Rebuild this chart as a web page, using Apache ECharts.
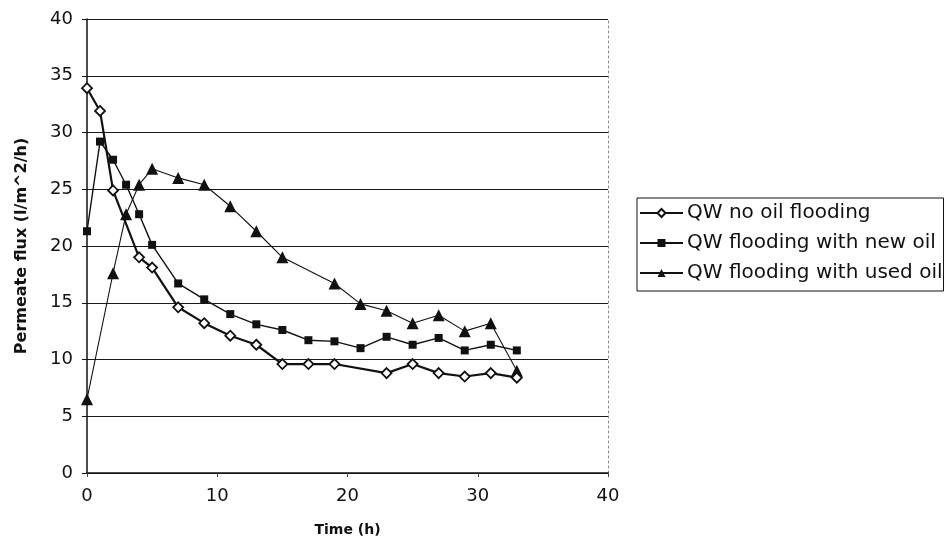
<!DOCTYPE html>
<html>
<head>
<meta charset="utf-8">
<script src="https://cdn.jsdelivr.net/npm/echarts@6/dist/echarts.min.js"></script>
<style>
  html, body { margin: 0; padding: 0; background: #fff; }
  #chart { width: 946px; height: 550px; }
</style>
</head>
<body>
<div id="chart"></div>
<script>
// series (time in h, flux in l/m^2/h)
const seriesNames = ['QW no oil flooding', 'QW flooding with new oil', 'QW flooding with used oil'];

const noOilTime = [0, 1, 2, 4, 5, 7, 9, 11, 13, 15, 17, 19, 23, 25, 27, 29, 31, 33];
const noOilFlux = [33.9, 31.9, 24.9, 19.0, 18.1, 14.6, 13.2, 12.1, 11.3, 9.6, 9.6, 9.6, 8.8, 9.6, 8.8, 8.5, 8.8, 8.4];

const newOilTime = [0, 1, 2, 3, 4, 5, 7, 9, 11, 13, 15, 17, 19, 21, 23, 25, 27, 29, 31, 33];
const newOilFlux = [21.3, 29.2, 27.6, 25.4, 22.8, 20.1, 16.7, 15.3, 14.0, 13.1, 12.6, 11.7, 11.6, 11.0, 12.0, 11.3, 11.9, 10.8, 11.3, 10.8];

const usedOilTime = [0, 2, 3, 4, 5, 7, 9, 11, 13, 15, 19, 21, 23, 25, 27, 29, 31, 33];
const usedOilFlux = [6.5, 17.6, 22.8, 25.4, 26.8, 26.0, 25.4, 23.5, 21.3, 19.0, 16.7, 14.9, 14.3, 13.2, 13.9, 12.5, 13.2, 9.0];

const xTicks = [0, 10, 20, 30, 40];
const yTicks = [0, 5, 10, 15, 20, 25, 30, 35, 40];

const pairs = (xs, ys) => xs.map((x, i) => [x, ys[i]]);

const font = 'DejaVu Sans, Arial, sans-serif';

const chart = echarts.init(document.getElementById('chart'), null, { renderer: 'canvas' });

const option = {
  animation: false,
  backgroundColor: '#fff',
  textStyle: { fontFamily: font, color: '#111' },
  grid: { left: 87, right: 338, top: 19, bottom: 77, containLabel: false },
  legend: {
    orient: 'vertical',
    left: 637,
    top: 198,
    data: seriesNames,
    itemWidth: 43,
    itemHeight: 10,
    itemGap: 10,
    padding: [5, 1, 8, 2],
    borderColor: '#111',
    borderWidth: 1,
    borderRadius: 0,
    textStyle: { fontFamily: font, fontSize: 20, color: '#111', padding: [0, 0, 0, -1] }
  },
  xAxis: {
    type: 'value',
    min: xTicks[0],
    max: xTicks[xTicks.length - 1],
    interval: 10,
    name: 'Time (h)',
    nameLocation: 'middle',
    nameGap: 50,
    nameTextStyle: { fontFamily: font, fontSize: 14, fontWeight: 'bold', color: '#111' },
    axisLine: { lineStyle: { color: '#111', width: 1.5 } },
    axisTick: { show: true, length: 4, lineStyle: { color: '#444' } },
    axisLabel: { fontSize: 18, color: '#111', margin: 14 },
    splitLine: { show: false }
  },
  yAxis: [{
    type: 'value',
    min: yTicks[0],
    max: yTicks[yTicks.length - 1],
    interval: 5,
    name: 'Permeate flux (l/m^2/h)',
    nameLocation: 'middle',
    nameGap: 57,
    nameTextStyle: { fontFamily: font, fontSize: 16, fontWeight: 'bold', color: '#111' },
    axisLine: { show: true, lineStyle: { color: '#111', width: 1.5 } },
    axisTick: { show: true, length: 5, lineStyle: { color: '#111' } },
    axisLabel: { fontSize: 18, color: '#111', margin: 14 },
    splitLine: { show: true, lineStyle: { color: '#1a1a1a', width: 1.2 } }
  }, {
    // dotted right border of the plot frame
    type: 'value',
    position: 'right',
    min: 0,
    max: 40,
    interval: 5,
    axisLine: { show: true, lineStyle: { color: '#888', width: 1, type: [2, 3] } },
    axisTick: { show: false },
    axisLabel: { show: false },
    splitLine: { show: false }
  }],
  series: [{
    name: seriesNames[0],
    type: 'line',
    data: pairs(noOilTime, noOilFlux),
    symbol: 'diamond',
    symbolSize: 10,
    itemStyle: { color: '#fff', borderColor: '#111', borderWidth: 1.8 },
    lineStyle: { color: '#111', width: 2.2 },
    z: 4
  }, {
    name: seriesNames[1],
    type: 'line',
    data: pairs(newOilTime, newOilFlux),
    symbol: 'rect',
    symbolSize: 8,
    itemStyle: { color: '#111' },
    lineStyle: { color: '#111', width: 1.4 },
    z: 3
  }, {
    name: seriesNames[2],
    type: 'line',
    data: pairs(usedOilTime, usedOilFlux),
    symbol: 'triangle',
    symbolSize: 12,
    itemStyle: { color: '#111' },
    lineStyle: { color: '#111', width: 1.1 },
    z: 2
  }]
};

chart.setOption(option);
</script>
</body>
</html>
